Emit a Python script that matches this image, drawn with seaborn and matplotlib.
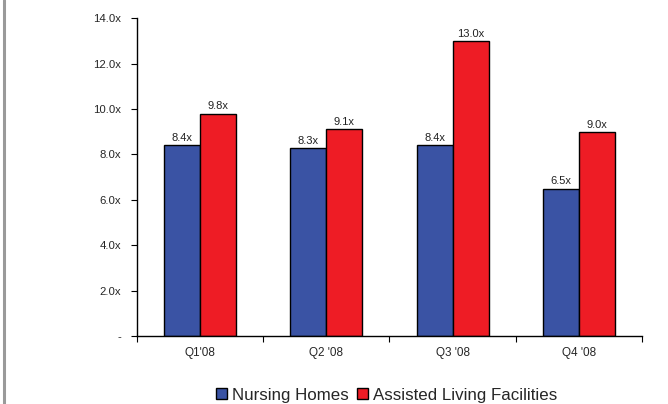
import matplotlib
matplotlib.use("Agg")
import matplotlib.pyplot as plt
from matplotlib.lines import Line2D
from matplotlib.ticker import FixedLocator, FuncFormatter
import seaborn as sns
import pandas as pd

quarters = ["Q1'08", "Q2 '08", "Q3 '08", "Q4 '08"]
nursing_homes = [8.4, 8.3, 8.4, 6.5]
assisted_living = [9.8, 9.1, 13.0, 9.0]
series_names = ["Nursing Homes", "Assisted Living Facilities"]
y_ticks = [0, 2, 4, 6, 8, 10, 12, 14]

df = pd.DataFrame({
    "quarter": quarters * 2,
    "multiple": nursing_homes + assisted_living,
    "series": [series_names[0]] * len(quarters) + [series_names[1]] * len(quarters),
})

sns.set_style("white")
plt.rcParams["font.family"] = ["Liberation Sans", "DejaVu Sans"]

fig = plt.figure(figsize=(6.68, 4.04), dpi=100)
ax = fig.add_axes([0.205, 0.168, 0.756, 0.787])

palette = {series_names[0]: "#3A53A4", series_names[1]: "#EE1C25"}
sns.barplot(data=df, x="quarter", y="multiple", hue="series", order=quarters,
            hue_order=series_names, palette=palette, width=0.57,
            edgecolor="black", linewidth=1.0, saturation=1, ax=ax)

for cont in ax.containers:
    ax.bar_label(cont, labels=[f"{v:.1f}x" for v in cont.datavalues],
                 fontsize=8, padding=1.5, color="#222222")

ax.set_ylim(0, 14)
ax.set_xlim(-0.5, len(quarters) - 0.5)
ax.yaxis.set_major_locator(FixedLocator(y_ticks))
ax.yaxis.set_major_formatter(FuncFormatter(lambda v, p: "-" if v == 0 else f"{v:.1f}x"))
ax.tick_params(axis="y", which="major", direction="out", length=4, width=0.8,
               labelsize=8.2, pad=7.5, color="black", left=True)
ax.tick_params(axis="x", which="major", length=0, labelsize=8.5, pad=8)
ax.xaxis.set_minor_locator(FixedLocator([i - 0.5 for i in range(len(quarters) + 1)]))
ax.tick_params(axis="x", which="minor", direction="out", length=4, width=0.8,
               color="black", bottom=True)
for lbl in ax.get_yticklabels():
    lbl.set_horizontalalignment("right")

for side in ["top", "right"]:
    ax.spines[side].set_visible(False)
for side in ["left", "bottom"]:
    ax.spines[side].set_color("black")
    ax.spines[side].set_linewidth(1.0)
ax.set_xlabel("")
ax.set_ylabel("")

handles, labels = ax.get_legend_handles_labels()
ax.legend_.remove()
fig.legend(handles, labels, loc="center", bbox_to_anchor=(0.579, 0.022), ncol=2,
           frameon=False, fontsize=12.2, handlelength=0.65, handleheight=0.65,
           handletextpad=0.3, columnspacing=0.5, borderaxespad=0)

fig.add_artist(Line2D([0.0055, 0.0055], [0, 1], color="#9a9a9a", linewidth=2.2,
                      transform=fig.transFigure))

fig.savefig("out.png", dpi=100)
